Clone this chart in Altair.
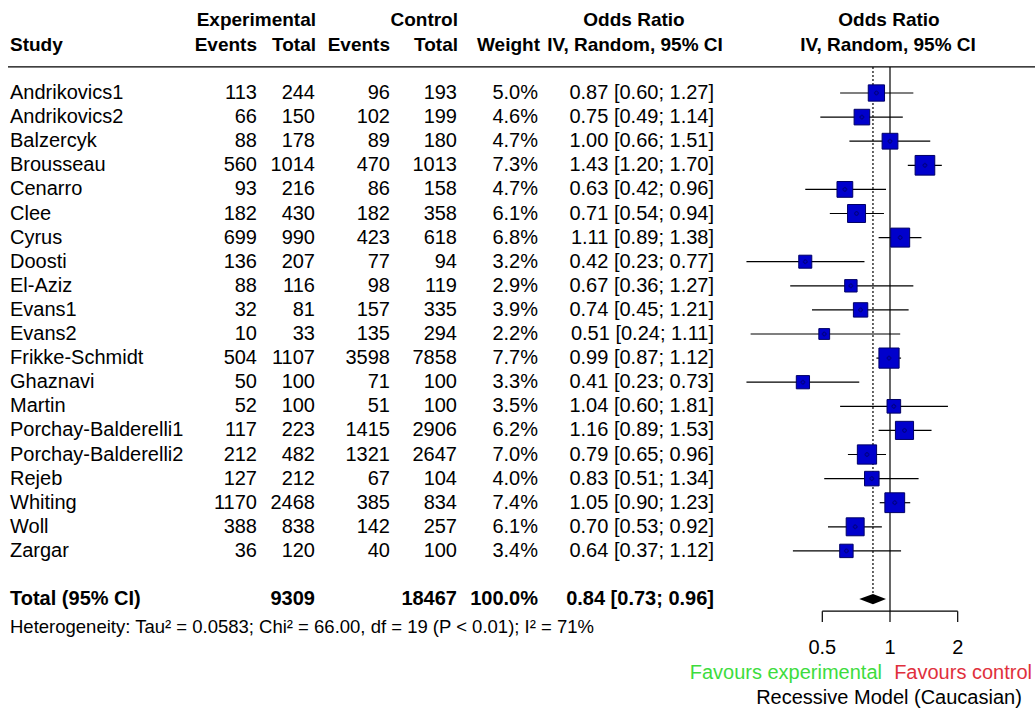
import altair as alt
import pandas as pd

studies = ["Andrikovics1", "Andrikovics2", "Balzercyk", "Brousseau", "Cenarro", "Clee", "Cyrus",
           "Doosti", "El-Aziz", "Evans1", "Evans2", "Frikke-Schmidt", "Ghaznavi", "Martin",
           "Porchay-Balderelli1", "Porchay-Balderelli2", "Rejeb", "Whiting", "Woll", "Zargar"]
exp_events = [113, 66, 88, 560, 93, 182, 699, 136, 88, 32, 10, 504, 50, 52, 117, 212, 127, 1170, 388, 36]
exp_total = [244, 150, 178, 1014, 216, 430, 990, 207, 116, 81, 33, 1107, 100, 100, 223, 482, 212, 2468, 838, 120]
ctrl_events = [96, 102, 89, 470, 86, 182, 423, 77, 98, 157, 135, 3598, 71, 51, 1415, 1321, 67, 385, 142, 40]
ctrl_total = [193, 199, 180, 1013, 158, 358, 618, 94, 119, 335, 294, 7858, 100, 100, 2906, 2647, 104, 834, 257, 100]
weight = [5.0, 4.6, 4.7, 7.3, 4.7, 6.1, 6.8, 3.2, 2.9, 3.9, 2.2, 7.7, 3.3, 3.5, 6.2, 7.0, 4.0, 7.4, 6.1, 3.4]
odds = [0.87, 0.75, 1.00, 1.43, 0.63, 0.71, 1.11, 0.42, 0.67, 0.74, 0.51, 0.99, 0.41, 1.04, 1.16, 0.79, 0.83, 1.05, 0.70, 0.64]
lower = [0.60, 0.49, 0.66, 1.20, 0.42, 0.54, 0.89, 0.23, 0.36, 0.45, 0.24, 0.87, 0.23, 0.60, 0.89, 0.65, 0.51, 0.90, 0.53, 0.37]
upper = [1.27, 1.14, 1.51, 1.70, 0.96, 0.94, 1.38, 0.77, 1.27, 1.21, 1.11, 1.12, 0.73, 1.81, 1.53, 0.96, 1.34, 1.23, 0.92, 1.12]

total_exp = 9309
total_ctrl = 18467
total_weight = "100.0%"
total_or = [0.84]
total_lower = [0.73]
total_upper = [0.96]
het_text = "Heterogeneity: Tau\u00b2 = 0.0583; Chi\u00b2 = 66.00, df = 19 (P < 0.01); I\u00b2 = 71%"
tick_values = [0.5, 1, 2]
tick_labels = ["0.5", "1", "2"]

FONT = "Liberation Sans"
FS = 20
HFS = 19
W, H = 1035, 711

rows = list(range(len(studies)))
df = pd.DataFrame({
    "row": rows, "study": studies,
    "ee": [str(v) for v in exp_events], "et": [str(v) for v in exp_total],
    "ce": [str(v) for v in ctrl_events], "ct": [str(v) for v in ctrl_total],
    "w": [f"{v:.1f}%" for v in weight], "wt": weight,
    "or": odds, "lo": lower, "hi": upper,
    "ci": [f"{o:.2f} [{l:.2f}; {u:.2f}]" for o, l, u in zip(odds, lower, upper)],
})
TOTAL_ROW = 21
total_df = pd.DataFrame({
    "row": [TOTAL_ROW], "label": ["Total (95% CI)"], "et": [str(total_exp)], "ct": [str(total_ctrl)],
    "w": [total_weight],
    "ci": [f"{total_or[0]:.2f} [{total_lower[0]:.2f}; {total_upper[0]:.2f}]"],
})

yscale = alt.Scale(domain=[-3.859, 25.643], range=[0, H], nice=False, zero=False)
xscale = alt.Scale(type="log", domain=[0.5, 2], range=[822.3, 957.7], nice=False, zero=False)

def Y(field="row"):
    return alt.Y(f"{field}:Q", scale=yscale, axis=None)

def X(field):
    return alt.X(f"{field}:Q", scale=xscale, axis=None)

base = alt.Chart(df)

def col_text(field, xpx, align="right", bold=False, data=None):
    src = alt.Chart(data) if data is not None else base
    return src.mark_text(align=align, baseline="middle", font=FONT, fontSize=FS,
                         fontWeight="bold" if bold else "normal", color="black").encode(
        x=alt.value(xpx), y=Y(), text=f"{field}:N")

layers = []
# study table
layers.append(col_text("study", 10, align="left"))
layers.append(col_text("ee", 257))
layers.append(col_text("et", 315))
layers.append(col_text("ce", 390))
layers.append(col_text("ct", 457))
layers.append(col_text("w", 538))
layers.append(col_text("ci", 714))
# total row
layers.append(col_text("label", 10, align="left", bold=True, data=total_df))
layers.append(col_text("et", 315, bold=True, data=total_df))
layers.append(col_text("ct", 457, bold=True, data=total_df))
layers.append(col_text("w", 538, bold=True, data=total_df))
layers.append(col_text("ci", 714, bold=True, data=total_df))

# heterogeneity
het_df = pd.DataFrame({"row": [22.15], "t": [het_text]})
layers.append(alt.Chart(het_df).mark_text(align="left", baseline="middle", font=FONT, fontSize=18.5,
                                          color="black").encode(x=alt.value(10), y=Y(), text="t:N"))

# headers
hdr = pd.DataFrame({
    "t": ["Experimental", "Control", "Odds Ratio", "Odds Ratio",
          "Study", "Events", "Total", "Events", "Total", "Weight", "IV, Random, 95% CI", "IV, Random, 95% CI"],
    "row": [-3.04, -3.04, -3.04, -3.04, -2.0, -2.0, -2.0, -2.0, -2.0, -2.0, -2.0, -2.0],
})
hdr_pos = [(316, "right"), (458, "right"), (634, "center"), (889, "center"),
           (10, "left"), (257, "right"), (316, "right"), (390, "right"), (458, "right"), (540, "right"),
           (635, "center"), (888, "center")]
for i, (px, al) in enumerate(hdr_pos):
    layers.append(alt.Chart(hdr.iloc[[i]]).mark_text(align=al, baseline="middle", font=FONT, fontSize=HFS,
                                                    fontWeight="bold", color="black").encode(
        x=alt.value(px), y=Y(), text="t:N"))

# header rule
hline = pd.DataFrame({"row": [-1.08]})
layers.append(alt.Chart(hline).mark_rule(color="black", strokeWidth=1.2).encode(
    x=alt.value(8), x2=alt.value(W), y=Y()))

# reference lines
ref = pd.DataFrame({"v": [1.0], "row": [-1.08], "row2": [21.5]})
layers.append(alt.Chart(ref).mark_rule(color="black", strokeWidth=1.2).encode(
    x=X("v"), y=Y("row"), y2="row2:Q"))
summ = pd.DataFrame({"v": total_or, "row": [-1.08], "row2": [TOTAL_ROW]})
layers.append(alt.Chart(summ).mark_rule(color="black", strokeWidth=1.2, strokeDash=[2, 2]).encode(
    x=X("v"), y=Y("row"), y2="row2:Q"))

# CI lines
layers.append(base.mark_rule(color="black", strokeWidth=1.2).encode(x=X("lo"), x2="hi:Q", y=Y()))
# boxes
layers.append(base.mark_point(shape="square", filled=True, fill="#0000cc", stroke="#000066",
                              strokeWidth=1, opacity=1).encode(
    x=X("or"), y=Y(),
    size=alt.Size("wt:Q", scale=alt.Scale(domain=[0, 10], range=[0, 530], zero=True), legend=None)))
layers.append(base.mark_point(shape="cross", filled=False, stroke="#000033", strokeWidth=0.5,
                              size=16, opacity=0.8).encode(x=X("or"), y=Y()))

# diamond
dia = pd.DataFrame({"x": [total_lower[0], total_or[0], total_upper[0]],
                    "y": [TOTAL_ROW, TOTAL_ROW - 0.21, TOTAL_ROW],
                    "y2": [TOTAL_ROW, TOTAL_ROW + 0.21, TOTAL_ROW]})
layers.append(alt.Chart(dia).mark_area(color="black", orient="vertical").encode(
    x=X("x"), y=Y("y"), y2="y2:Q"))

# x axis
axis_df = pd.DataFrame({"a": [tick_values[0]], "b": [tick_values[-1]], "row": [21.5]})
layers.append(alt.Chart(axis_df).mark_rule(color="black", strokeWidth=1.2).encode(
    x=X("a"), x2="b:Q", y=Y()))
ticks = pd.DataFrame({"v": tick_values, "lab": tick_labels, "row": [21.5] * 3, "row2": [21.95] * 3,
                      "lrow": [23.03] * 3})
layers.append(alt.Chart(ticks).mark_rule(color="black", strokeWidth=1.2).encode(
    x=X("v"), y=Y("row"), y2="row2:Q"))
layers.append(alt.Chart(ticks).mark_text(align="center", baseline="middle", font=FONT, fontSize=FS,
                                         color="black").encode(x=X("v"), y=Y("lrow"), text="lab:N"))

# favours labels
fav = pd.DataFrame({"t": ["Favours experimental", "Favours control", "Recessive Model (Caucasian)"],
                    "row": [24.07, 24.07, 25.1]})
layers.append(alt.Chart(fav.iloc[[0]]).mark_text(align="right", baseline="middle", font=FONT, fontSize=FS,
                                                 color="#3ddc3d").encode(x=alt.value(882), y=Y(), text="t:N"))
layers.append(alt.Chart(fav.iloc[[1]]).mark_text(align="right", baseline="middle", font=FONT, fontSize=FS,
                                                 color="#e0303c").encode(x=alt.value(1032), y=Y(), text="t:N"))
layers.append(alt.Chart(fav.iloc[[2]]).mark_text(align="center", baseline="middle", font=FONT, fontSize=FS,
                                                 color="black").encode(x=alt.value(889), y=Y(), text="t:N"))

chart = alt.layer(*layers).properties(
    width=W, height=H, autosize=alt.AutoSizeParams(type="none"), padding=0, background="white"
).configure_view(stroke=None)

chart.save("out.html", embed_options={"renderer": "svg", "actions": False})
